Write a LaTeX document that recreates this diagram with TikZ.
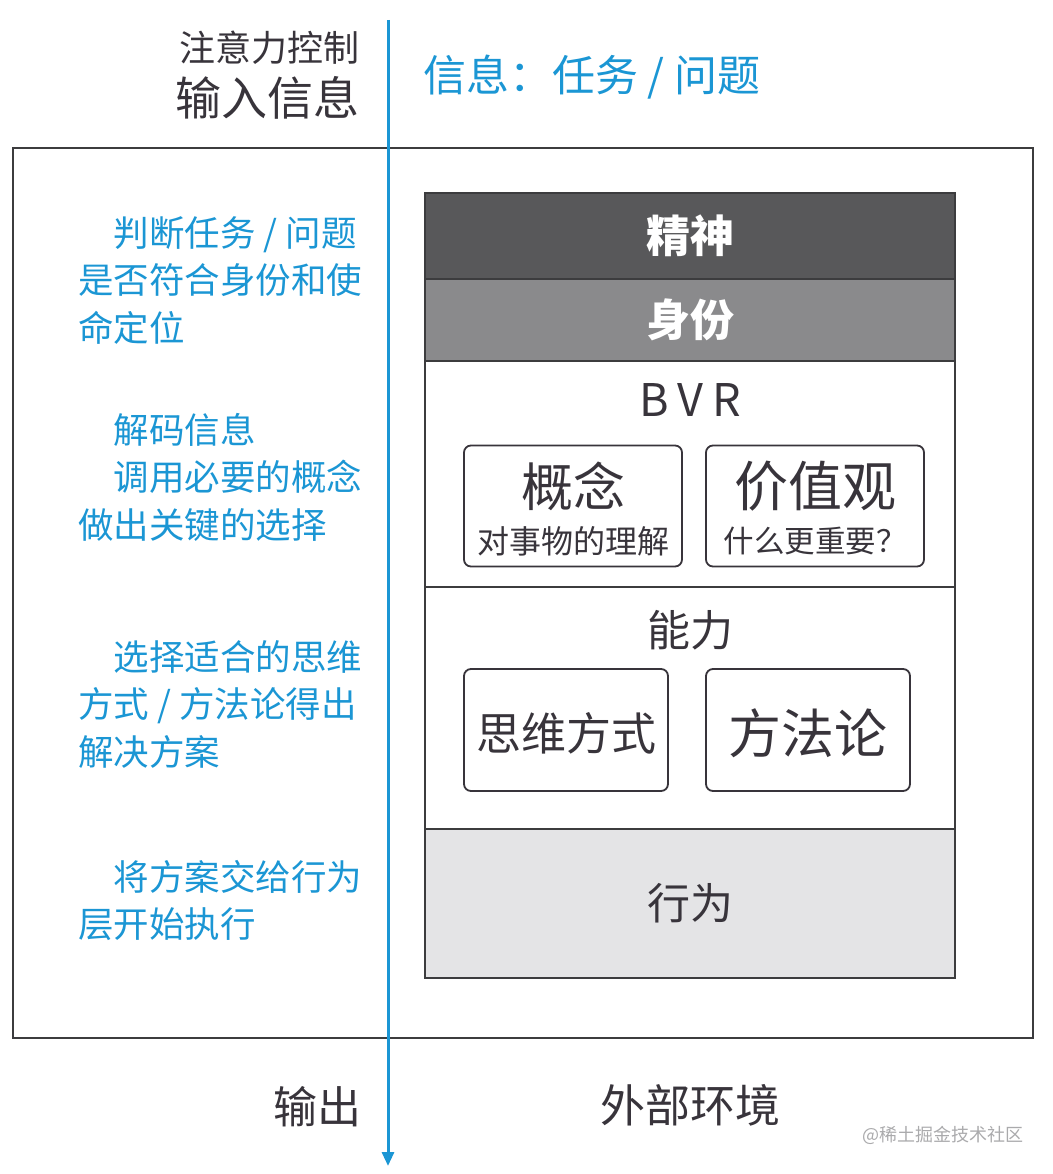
\documentclass[tikz,border=0pt]{standalone}
\usepackage{fontspec}
\setmainfont{Noto Sans CJK SC}
\usetikzlibrary{positioning, arrows.meta}
\definecolor{infoblue}{RGB}{27,150,212}
\definecolor{inkgray}{RGB}{56,52,59}
\definecolor{spiritgray}{RGB}{88,88,90}
\definecolor{idgray}{RGB}{138,138,140}
\definecolor{actgray}{RGB}{228,228,230}
\definecolor{framegray}{RGB}{60,60,62}
\definecolor{markgray}{RGB}{170,170,172}
\newcommand{\pxfont}[1]{\fontsize{#1}{#1}\selectfont}
\tikzset{
  ink/.style={text=inkgray, inner sep=0pt},
  band/.style={draw=framegray, line width=1.5pt, minimum width=530pt, inner sep=0pt, outer sep=0pt},
  pill/.style={draw=inkgray, line width=1.8pt, rounded corners=7pt, inner sep=0pt},
  note/.style={text=infoblue, align=left, anchor=north west, inner sep=0pt,
    font=\fontsize{35.5}{47.5}\selectfont},
  flow/.style={infoblue, line width=3pt, -{Triangle[length=14pt,width=12pt]}}
}
\begin{document}
\begin{tikzpicture}[x=1pt, y=-1pt]
  \useasboundingbox (0,0) rectangle (1052,1174);
  %intestazione
  \node[ink, anchor=east, font=\pxfont{36}] (attn) at (360,48) {注意力控制};
  \node[ink, anchor=east, font=\pxfont{46}] (input) at (360,98) {输入信息};
  \node[anchor=west, text=infoblue, inner sep=0pt, font=\pxfont{43}] (info) at (423,77) {信息：任务\ /\ 问题};
  %cornice esterna
  \node[draw=framegray, line width=2pt, minimum width=1020pt, minimum height=890pt, inner sep=0pt] (frame) at (523,593) {};
  %pila dei livelli
  \node[band, fill=spiritgray, minimum height=86pt, anchor=north, text=white, font=\pxfont{44}\bfseries] (spirit) at (690,193) {精神};
  \node[band, fill=idgray, minimum height=82pt, below=0pt of spirit, text=white, font=\pxfont{44}\bfseries] (identity) {身份};
  \node[band, fill=white, minimum height=226pt, below=0pt of identity] (bvr) {};
  \node[band, fill=white, minimum height=242pt, below=0pt of bvr] (ability) {};
  \node[band, fill=actgray, minimum height=149pt, below=0pt of ability, text=inkgray, font=\pxfont{43}] (act) {行为};
  %BVR
  \node[ink, font=\pxfont{45}] (bvrtitle) at (690,400) {B\kern9pt V\kern9pt R};
  \node[pill, minimum width=218pt, minimum height=121pt] (concept) at (573,506) {};
  \node[ink, font=\pxfont{52}] (conceptname) at (573,486) {概念};
  \node[ink, font=\pxfont{32}] (concepttext) at (573,541) {对事物的理解};
  \node[pill, minimum width=218pt, minimum height=121pt] (value) at (815,506) {};
  \node[ink, font=\pxfont{54}] (valuename) at (815,486) {价值观};
  \node[ink, font=\pxfont{30.5}] (valuetext) at (815,541) {什么更重要？};
  %capacita
  \node[ink, font=\pxfont{43}] (abilitytitle) at (690,630) {能力};
  \node[pill, minimum width=204pt, minimum height=122pt] (thinking) at (566,730) {};
  \node[ink, font=\pxfont{45}] (thinkingname) at (566,733) {思维方式};
  \node[pill, minimum width=204pt, minimum height=122pt] (method) at (808,730) {};
  \node[ink, font=\pxfont{53}] (methodname) at (808,733) {方法论};
  %freccia blu
  \coordinate (inlet) at (388,20);
  \coordinate (outlet) at (388,1166);
  \draw[flow] (inlet) -- (outlet);
  %note a sinistra
  \node[note] (judge) at (78,216) {\hspace*{1em}判断任务 / 问题\\是否符合身份和使\\命定位};
  \node[note] (decode) at (78,413) {\hspace*{1em}解码信息\\\hspace*{1em}调用必要的概念\\做出关键的选择};
  \node[note] (choose) at (78,640) {\hspace*{1em}选择适合的思维\\方式 / 方法论得出\\解决方案};
  \node[note] (hand) at (78,860) {\hspace*{1em}将方案交给行为\\层开始执行};
  %fondo
  \node[ink, anchor=east, font=\pxfont{44}] (output) at (362,1107) {输出};
  \node[ink, font=\pxfont{45}] (env) at (690,1105) {外部环境};
  \node[anchor=west, text=markgray, inner sep=0pt, font=\pxfont{18}] (mark) at (862,1135) {@稀土掘金技术社区};
\end{tikzpicture}
\end{document}
